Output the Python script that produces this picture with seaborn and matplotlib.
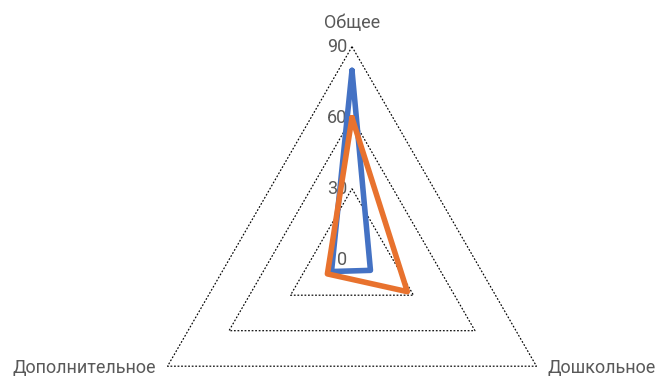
import numpy as np
import pandas as pd
import matplotlib
matplotlib.use("Agg")
import matplotlib.pyplot as plt
import seaborn as sns

categories = ["Общее", "Дошкольное", "Дополнительное"]
series_blue = [80, 9, 10]
series_orange = [60, 27, 12]
tick_values = [0, 30, 60, 90]
tick_labels = ["0", "30", "60", "90"]

sns.set_theme(style="white")
plt.rcParams["font.family"] = ["Roboto", "DejaVu Sans"]

W, H = 660, 376
fig = plt.figure(figsize=(W / 100, H / 100), dpi=100)
ax = fig.add_axes([0, 0, 1, 1])

cx, cy = 352, 259.7
rmax = 90
R = 213.0
s = R / rmax  # px per unit

angles = np.deg2rad([90, -30, 210])


def to_xy(vals):
    v = np.asarray(vals, dtype=float)
    x = v * np.cos(angles)
    y = v * np.sin(angles)
    return np.append(x, x[0]), np.append(y, y[0])


# grid rings
for t in tick_values[1:]:
    gx, gy = to_xy([t] * 3)
    ax.plot(gx, gy, color="#000000", lw=0.85, ls=(0, (1.5, 1.5)), zorder=1)

rows = []
for name, vals in [("s1", series_blue), ("s2", series_orange)]:
    x, y = to_xy(vals)
    for i, (a, b) in enumerate(zip(x, y)):
        rows.append({"series": name, "order": i, "x": a, "y": b})
df = pd.DataFrame(rows)

sns.lineplot(data=df, x="x", y="y", hue="series", sort=False, estimator=None,
             units="series", palette={"s1": "#4472C4", "s2": "#E8722E"},
             linewidth=4.0, legend=False, ax=ax, zorder=3)
for ln in ax.get_lines()[-2:]:
    ln.set_solid_joinstyle("round")
    ln.set_solid_capstyle("round")
ax.set_xlim(-cx / s, (W - cx) / s)
ax.set_ylim(-(H - cy) / s, cy / s)
ax.axis("off")

txt = "#595959"
fs = 13
# tick labels
for v, lab in zip(tick_values, tick_labels):
    ax.annotate(lab, (0, v), xytext=(-3.5, 0), textcoords="offset points",
                ha="right", va="center", fontsize=fs, color=txt, zorder=2)

# category labels
ox, oy = to_xy([rmax] * 3)
ax.annotate(categories[0], (ox[0], oy[0]), xytext=(0, 17), textcoords="offset points",
            ha="center", va="center", fontsize=fs, color=txt)
ax.annotate(categories[1], (ox[1], oy[1]), xytext=(8, -1.5), textcoords="offset points",
            ha="left", va="center", fontsize=fs, color=txt)
ax.annotate(categories[2], (ox[2], oy[2]), xytext=(-8, -1.5), textcoords="offset points",
            ha="right", va="center", fontsize=fs, color=txt)

fig.savefig("out.png", dpi=100)
